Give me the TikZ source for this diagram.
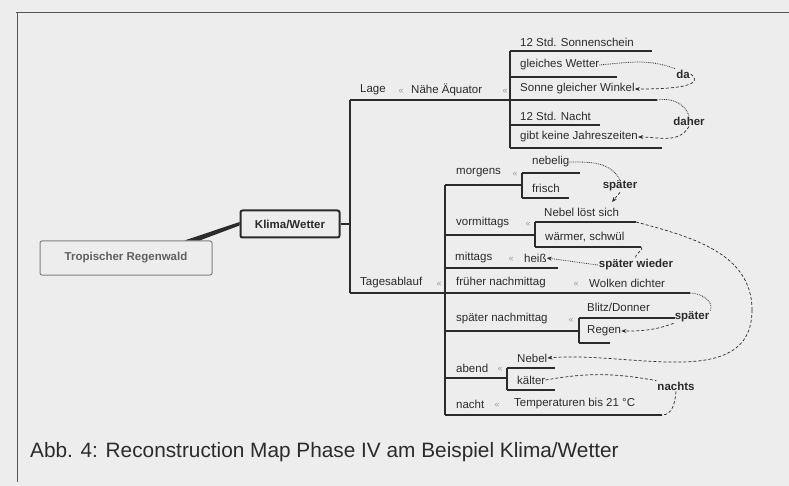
\documentclass[tikz,border=0pt]{standalone}
\usepackage{fontspec}
\setmainfont{Liberation Sans}
\usepackage{xcolor}
\usepackage{tikz}
\usetikzlibrary{arrows.meta,calc}

\definecolor{paper}{HTML}{EDEDED}
\definecolor{ink}{HTML}{2B2B2B}
\definecolor{soft}{HTML}{9A9A9A}

\tikzset{
  txt/.style={font=\fontsize{11.5}{12}\selectfont, text=ink, inner sep=0pt, anchor=west},
  boldtxt/.style={font=\fontsize{11.5}{12}\selectfont\bfseries, text=ink, inner sep=1pt},
  sep/.style={font=\fontsize{9}{9}\selectfont, text=soft, inner sep=0pt},
  branch/.style={draw=ink, line width=2pt},
  twig/.style={draw=ink, line width=1.1pt},
  link/.style={draw=ink, densely dashed, line width=0.7pt, -{Stealth[length=5pt,width=4pt]}},
  dotlink/.style={draw=ink, densely dotted, line width=0.8pt}
}

\begin{document}
\begin{tikzpicture}[x=1pt,y=-1pt]
\useasboundingbox (0,0) rectangle (789,486);
\fill[paper] (0,0) rectangle (789,486);
\draw[ink!80, line width=1pt] (16,13)--(789,13);
\draw[ink!80, line width=1pt] (17,13)--(17,482);

\node[draw=ink!60, line width=1pt, rounded corners=2pt, minimum width=172pt, minimum height=34pt,
  font=\fontsize{11.5}{12}\selectfont\bfseries, text=ink!75] (regenwald) at (126,258) {Tropischer Regenwald};
\node[draw=ink, line width=2pt, rounded corners=2pt, minimum width=99pt, minimum height=27pt,
  font=\fontsize{11.5}{12}\selectfont\bfseries, text=ink] (klima) at (290,224) {Klima/Wetter};
\fill[ink] ($(regenwald.north west)+(145,0)$)--($(regenwald.north west)+(160,0)$)
  --($(klima.west)+(0,1.5)$)--($(klima.west)+(0,-2)$)--cycle;

\coordinate (root) at (350,224);
\coordinate (lage) at (350,100);
\coordinate (lageend) at (657,100);
\coordinate (tages) at (350,293);
\coordinate (tagesend) at (690,293);
\draw[twig] (klima.east)--(root);
\draw[branch] (lage)--(tages);
\draw[branch] (lage)--(lageend);
\draw[branch] (tages)--(tagesend);

% Lage
\node[txt] (lagetxt) at (360,90) {Lage};
\node[sep] at (401,91) {«};
\node[txt] (aequator) at (411,90) {Nähe Äquator};
\node[sep] at (505,91) {«};
\node[txt] (sonnen) at (520,42) {12 Std. Sonnenschein};
\node[txt] (wetter) at (520,65) {gleiches Wetter};
\node[txt] (winkel) at (520,89) {Sonne gleicher Winkel};
\node[txt] (nacht12) at (520,116) {12 Std. Nacht};
\node[txt] (jahr) at (520,137) {gibt keine Jahreszeiten};
\draw[twig] (510,51)--(510,148);
\draw[branch] (510,51)--(652,51);
\draw[twig] (510,77)--(617,77);
\draw[twig] (510,125)--(600,125);
\draw[branch] (510,148)--(662,148);
\node[boldtxt] (da) at (683,74) {da};
\node[boldtxt] (daher) at (689,121) {daher};
\draw[dotlink] (wetter.east) to[out=5,in=160] (da.north west);
\draw[link] (da.east) to[out=-40,in=0] (winkel.east);
\draw[dotlink] (lageend) to[out=10,in=110] (daher.north);
\draw[link] (daher.south) to[out=-120,in=0] (jahr.east);

% Tagesablauf
\node[txt] (tagestxt) at (360,283) {Tagesablauf};
\node[sep] at (439,284) {«};
\draw[branch] (445,185)--(445,415);

\node[txt] (morgens) at (456,173) {morgens};
\node[sep] at (515,174) {«};
\node[txt] (nebelig) at (532,162) {nebelig};
\node[txt] (frisch) at (532,188) {frisch};
\draw[branch] (445,185)--(522,185);
\draw[twig] (522,173)--(522,198);
\draw[twig] (522,173)--(580,173);
\draw[branch] (522,198)--(569,198);
\node[boldtxt] (spaeter1) at (620,186) {später};
\coordinate (nach1) at (612,202);
\draw[dotlink] (nebelig.east) to[out=0,in=120] (spaeter1.north);
\draw[link] (spaeter1.south) -- (nach1);

\node[txt] (vormittags) at (456,223) {vormittags};
\node[sep] at (528,224) {«};
\node[txt] (loest) at (544,212) {Nebel löst sich};
\node[txt] (waermer) at (545,237) {wärmer, schwül};
\draw[branch] (445,235)--(535,235);
\draw[twig] (535,222)--(535,247);
\coordinate (loestend) at (636,222);
\coordinate (waermerend) at (641,247);
\draw[twig] (535,222)--(loestend);
\draw[branch] (535,247)--(waermerend);

\node[txt] (mittags) at (455,258) {mittags};
\node[sep] at (511,259) {«};
\node[txt] (heiss) at (524,258) {heiß};
\draw[twig] (445,268)--(558,268);
\node[boldtxt] (wieder) at (636,265) {später wieder};
\draw[dotlink, -{Stealth[length=5pt,width=4pt]}] (wieder.west) -- (heiss.east);
\draw[draw=ink, densely dashed, line width=0.7pt] (waermerend) to[out=-20,in=120] (wieder.north);

\node[txt] (frueh) at (456,283) {früher nachmittag};
\node[sep] at (576,284) {«};
\node[txt] (wolken) at (589,283) {Wolken dichter};

\node[txt] (spaetnach) at (456,319) {später nachmittag};
\node[sep] at (571,320) {«};
\node[txt] (blitz) at (587,307) {Blitz/Donner};
\node[txt] (regen) at (587,331) {Regen};
\draw[twig] (445,331)--(579,331);
\draw[twig] (579,318)--(579,343);
\draw[branch] (579,318)--(675,318);
\draw[twig] (579,343)--(610,343);
\node[boldtxt] (spaeter2) at (692,317) {später};
\draw[dotlink] (tagesend) to[out=0,in=70] (spaeter2.north east);
\draw[link] (spaeter2.south west) to[out=200,in=0] (regen.east);

\node[txt] (abend) at (456,368) {abend};
\node[sep] at (500,369) {«};
\node[txt] (nebel) at (517,358) {Nebel};
\node[txt] (kaelter) at (517,380) {kälter};
\draw[branch] (445,378)--(507,378);
\draw[twig] (507,368)--(507,390);
\draw[twig] (507,368)--(555,368);
\draw[branch] (507,390)--(555,390);
\coordinate (bogen) at (752,310);
\draw[draw=ink, densely dashed, line width=0.7pt] (loestend) to[out=-15,in=90] (bogen);
\draw[link] (bogen) to[out=-90,in=5] (nebel.east);

\node[txt] (nachttxt) at (456,404) {nacht};
\node[sep] at (497,405) {«};
\node[txt] (temp) at (514,404) {Temperaturen bis 21 °C};
\coordinate (nachtend) at (662,415);
\draw[branch] (445,415)--(nachtend);
\node[boldtxt] (nachts) at (676,386) {nachts};
\draw[draw=ink, densely dashed, line width=0.7pt] (kaelter.east) to[out=10,in=170] (nachts.north west);
\draw[draw=ink, densely dashed, line width=0.7pt] (nachts.south) to[out=-95,in=0] (nachtend);

\node[anchor=west, inner sep=0pt, font=\fontsize{20.8}{22}\selectfont, text=ink] (caption) at (30,452)
  {Abb. 4: Reconstruction Map Phase IV am Beispiel Klima/Wetter};
\end{tikzpicture}
\end{document}
